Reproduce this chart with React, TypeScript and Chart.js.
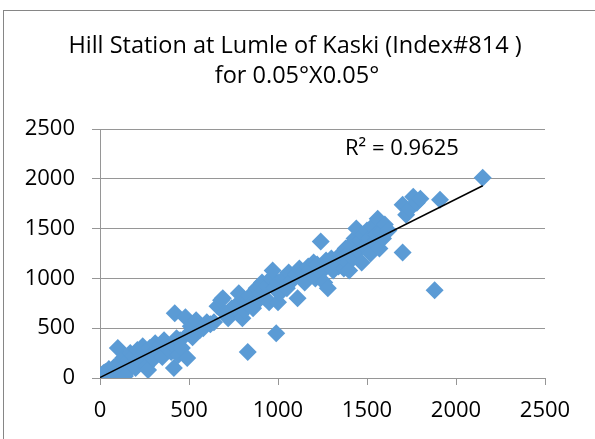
import React, { useEffect, useRef } from 'react';
import { Chart, registerables } from 'chart.js';

Chart.register(...registerables);

const TITLE_LINES = ['Hill Station at Lumle of Kaski (Index#814 )', 'for 0.05°X0.05°'];
const R2_LABEL = 'R² = 0.9625';
const X_TICKS = [0, 500, 1000, 1500, 2000, 2500];
const Y_TICKS = [0, 500, 1000, 1500, 2000, 2500];

const OBS_X = [
  0, 10, 20, 30, 40, 50, 60, 70, 80, 90, 100, 100, 110, 120, 130, 140, 150, 160, 170, 180,
  190, 200, 210, 220, 230, 240, 250, 260, 270, 280, 290, 300, 20, 40, 60, 120, 140,
  310, 320, 340, 350, 360, 380, 400, 410, 415, 420, 430, 440, 450, 460, 480, 490, 500, 510, 520, 540, 560, 580, 600,
  620, 640, 660, 680, 690, 700, 720, 740, 760, 780, 790, 800, 810, 820, 830, 840, 850, 860, 880, 890, 900, 910, 920, 930, 940, 950, 960, 970, 980, 990, 1000, 1000, 1010,
  1030, 1050, 1060, 1080, 1100, 1110, 1120, 1140, 1150, 1170, 1180, 1200, 1210, 1220, 1240, 1240, 1250, 1260, 1270, 1280, 1290, 1300, 1310, 1320, 1340, 1350, 1360, 1370, 1380, 1390, 1400, 1400,
  1410, 1420, 1430, 1440, 1450, 1460, 1470, 1480, 1490, 1500, 1510, 1520, 1530, 1540, 1550, 1560, 1570, 1580, 1590, 1600, 1620, 1700, 1700, 1720, 1740, 1760, 1780, 1800, 1910, 1880, 2150,
];
const OBS_Y = [
  0, 30, 10, 60, 20, 90, 40, 0, 110, 60, 20, 300, 150, 90, 200, 130, 60, 180, 250, 140,
  220, 100, 280, 200, 160, 320, 260, 120, 80, 300, 230, 190, 50, 0, 10, 40, 20,
  350, 270, 330, 210, 380, 300, 260, 340, 100, 650, 400, 230, 380, 300, 610, 200, 450, 520, 410, 580, 480, 500, 560,
  540, 560, 720, 780, 800, 650, 600, 700, 720, 850, 640, 600, 680, 760, 260, 820, 740, 700, 900, 780, 850, 960, 880, 800, 920, 760, 1000, 1080, 900, 450, 760, 960, 850,
  1000, 900, 1060, 980, 1040, 800, 1100, 1060, 960, 1120, 1080, 1160, 1000, 1140, 1370, 1060, 1100, 960, 1180, 900, 1140, 1200, 1080, 1160, 1120, 1240, 1200, 1100, 1300, 1160, 1260, 1080,
  1340, 1200, 1400, 1500, 1280, 1380, 1160, 1440, 1320, 1480, 1400, 1250, 1520, 1360, 1440, 1600, 1300, 1460, 1400, 1540, 1480, 1740, 1260, 1640, 1700, 1820, 1760, 1800, 1790, 880, 2010,
];

const TREND_X = [0, 2150];
const TREND_Y = [5, 1930];

const FONT = '"Open Sans", sans-serif';

export default function App() {
  const ref = useRef<HTMLCanvasElement | null>(null);

  useEffect(() => {
    document.body.style.margin = '0';
    const canvas = ref.current;
    if (!canvas) return;

    const decor = {
      id: 'decor',
      afterDraw(chart: any) {
        const ctx = chart.ctx;
        ctx.save();
        ctx.strokeStyle = '#868686';
        ctx.lineWidth = 1;
        ctx.strokeRect(3.5, 10.5, 640, 500);
        ctx.fillStyle = '#000';
        ctx.textAlign = 'center';
        ctx.textBaseline = 'middle';
        ctx.font = `23.5px ${FONT}`;
        ctx.fillText(TITLE_LINES[0], 295, 46);
        ctx.fillText(TITLE_LINES[1], 297, 76);
        ctx.font = `22px ${FONT}`;
        ctx.textAlign = 'left';
        ctx.fillText(R2_LABEL, 345, 149);
        ctx.restore();
      },
    };

    const chart = new Chart(canvas, {
      type: 'scatter',
      data: {
        datasets: [
          {
            type: 'line',
            data: TREND_X.map((x, i) => ({ x, y: TREND_Y[i] })),
            borderColor: '#000',
            borderWidth: 1.5,
            pointRadius: 0,
            fill: false,
            order: 0,
          } as any,
          {
            data: OBS_X.map((x, i) => ({ x, y: OBS_Y[i] })),
            pointStyle: 'rectRot',
            pointRadius: 9,
            backgroundColor: '#5B9BD5',
            borderWidth: 0,
            order: 1,
          },
        ],
      },
      options: {
        responsive: false,
        animation: false,
        devicePixelRatio: 1,
        layout: { padding: { top: 129, right: 50, left: 0, bottom: 0 } },
        plugins: { legend: { display: false }, tooltip: { enabled: false }, title: { display: false } },
        scales: {
          x: {
            type: 'linear',
            min: 0,
            max: 2500,
            afterBuildTicks: (s: any) => { s.ticks = X_TICKS.map((v) => ({ value: v })); },
            afterFit: (s: any) => { s.height = 61; },
            grid: { drawOnChartArea: false, drawTicks: true, tickLength: 7, color: '#969696' },
            border: { display: true, color: '#969696' },
            ticks: { color: '#000', font: { family: FONT, size: 22 }, padding: 13, maxRotation: 0, callback: (v: any) => String(v) },
          },
          y: {
            type: 'linear',
            min: 0,
            max: 2500,
            afterBuildTicks: (s: any) => { s.ticks = Y_TICKS.map((v) => ({ value: v })); },
            afterFit: (s: any) => { s.width = 100; },
            grid: { drawOnChartArea: true, drawTicks: true, tickLength: 8, color: '#969696' },
            border: { display: true, color: '#969696' },
            ticks: { color: '#000', font: { family: FONT, size: 22 }, padding: 17, callback: (v: any) => String(v) },
          },
        },
      },
      plugins: [decor],
    });

    return () => chart.destroy();
  }, []);

  return <canvas ref={ref} width={595} height={439} style={{ display: 'block', width: 595, height: 439 }} />;
}
